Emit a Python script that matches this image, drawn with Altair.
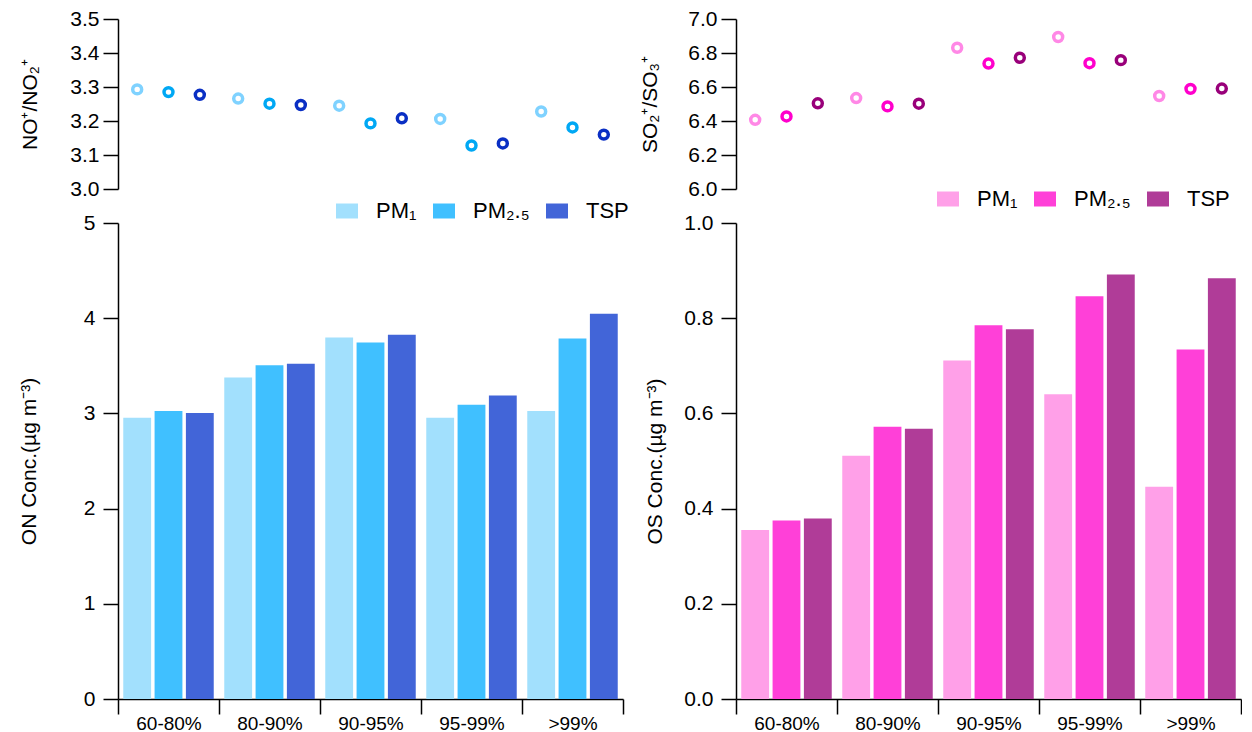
import altair as alt
import pandas as pd

categories = ["60-80%", "80-90%", "90-95%", "95-99%", ">99%"]
series = ["PM₁", "PM₂.₅", "TSP"]

# NO+/NO2+ ratio
no_ratio_pm1 = [3.293, 3.266, 3.245, 3.206, 3.228]
no_ratio_pm25 = [3.285, 3.251, 3.193, 3.128, 3.181]
no_ratio_tsp = [3.277, 3.247, 3.208, 3.134, 3.160]
# SO2+/SO3+ ratio
so_ratio_pm1 = [6.407, 6.535, 6.831, 6.894, 6.547]
so_ratio_pm25 = [6.427, 6.486, 6.738, 6.740, 6.589]
so_ratio_tsp = [6.504, 6.502, 6.772, 6.758, 6.591]
# ON concentration
on_pm1 = [2.955, 3.376, 3.797, 2.955, 3.026]
on_pm25 = [3.026, 3.505, 3.744, 3.090, 3.787]
on_tsp = [3.005, 3.522, 3.826, 3.187, 4.047]
# OS concentration
os_pm1 = [0.355, 0.511, 0.711, 0.640, 0.446]
os_pm25 = [0.375, 0.572, 0.785, 0.846, 0.734]
os_tsp = [0.379, 0.568, 0.777, 0.892, 0.884]

no_pt_colors = ["#7fd2ff", "#00a8f4", "#0a2fc4"]
on_bar_colors = ["#a2e0fd", "#40c0ff", "#4265d8"]
so_pt_colors = ["#ff88e6", "#ff00cc", "#99007a"]
os_bar_colors = ["#ffa0e8", "#ff40d8", "#b03c98"]


def frame(a, b, c):
    rows = []
    for s, vals in zip(series, [a, b, c]):
        for cat, v in zip(categories, vals):
            rows.append({"cat": cat, "series": s, "value": v})
    return pd.DataFrame(rows)


FONT = "Liberation Sans"
W = 505
H_TOP = 170
H_BOT = 476

xsc = alt.Scale(paddingInner=0, paddingOuter=0)
osc = alt.Scale(paddingInner=0.111, paddingOuter=0.168)

legend_sym = "M-1.1,-0.75H1.1V0.75H-1.1Z"


def top_chart(df, colors, domain, ticks, fmt, title, title_x):
    return alt.Chart(df).mark_point(filled=False, size=80, strokeWidth=3.5, opacity=1).encode(
        x=alt.X("cat:N", sort=categories, scale=xsc, axis=None),
        xOffset=alt.XOffset("series:N", sort=series, scale=osc),
        y=alt.Y("value:Q", scale=alt.Scale(domain=domain, nice=False, zero=False),
                axis=alt.Axis(values=ticks, format=fmt, title=title, titleX=title_x,
                              titleY=H_TOP / 2, titleAngle=-90, titleAlign="center",
                              titleBaseline="middle", labelPadding=4)),
        color=alt.Color("series:N", sort=series,
                        scale=alt.Scale(domain=series, range=colors), legend=None),
    ).properties(width=W, height=H_TOP)


def bot_chart(df, colors, domain, ticks, fmt, title, title_x, lx, ly):
    return alt.Chart(df).mark_bar().encode(
        x=alt.X("cat:N", sort=categories, scale=xsc,
                axis=alt.Axis(title=None, tickBand="extent", labelAngle=0,
                              tickSize=15, labelPadding=0, labelFontSize=19)),
        xOffset=alt.XOffset("series:N", sort=series, scale=osc),
        y=alt.Y("value:Q", scale=alt.Scale(domain=domain, nice=False),
                axis=alt.Axis(values=ticks, format=fmt, title=title, titleX=title_x,
                              titleY=H_BOT / 2, titleAngle=-90, titleAlign="center",
                              titleBaseline="middle", labelPadding=8)),
        color=alt.Color("series:N", sort=series,
                        scale=alt.Scale(domain=series, range=colors),
                        legend=alt.Legend(orient="none", legendX=lx, legendY=ly,
                                          direction="horizontal", title=None,
                                          symbolType=legend_sym, symbolSize=400,
                                          symbolStrokeWidth=0, labelFontSize=22,
                                          labelFont=FONT, labelOffset=18,
                                          columnPadding=16, padding=0)),
    ).properties(width=W, height=H_BOT)


left = alt.vconcat(
    top_chart(frame(no_ratio_pm1, no_ratio_pm25, no_ratio_tsp), no_pt_colors,
              [3.0, 3.5], [3.0, 3.1, 3.2, 3.3, 3.4, 3.5], ".1f", "NO⁺/NO₂⁺", -88),
    bot_chart(frame(on_pm1, on_pm25, on_tsp), on_bar_colors,
              [0, 5], [0, 1, 2, 3, 4, 5], "d", "ON Conc.(µg m⁻³)", -89, 218, -23),
    spacing=34, bounds="flush",
).resolve_scale(color="independent")

right = alt.vconcat(
    top_chart(frame(so_ratio_pm1, so_ratio_pm25, so_ratio_tsp), so_pt_colors,
              [6.0, 7.0], [6.0, 6.2, 6.4, 6.6, 6.8, 7.0], ".1f", "SO₂⁺/SO₃⁺", -86),
    bot_chart(frame(os_pm1, os_pm25, os_tsp), os_bar_colors,
              [0, 1], [0, 0.2, 0.4, 0.6, 0.8, 1.0], ".1f", "OS Conc.(µg m⁻³)", -81, 201, -35),
    spacing=34, bounds="flush",
).resolve_scale(color="independent")

chart = alt.hconcat(left, right, spacing=9).resolve_scale(
    color="independent"
).properties(
    padding={"left": 10, "top": 0, "right": 0, "bottom": 0}
).configure_view(stroke=None).configure_axis(
    labelFont=FONT, titleFont=FONT, labelFontSize=21, titleFontSize=21,
    labelColor="black", titleColor="black", domainColor="black", tickColor="black",
    domainWidth=1.5, tickWidth=1.5, tickSize=15, grid=False, titleFontWeight="normal",
).configure_legend(labelColor="black")

chart.save("out.html", embed_options={"renderer": "svg", "actions": False})
